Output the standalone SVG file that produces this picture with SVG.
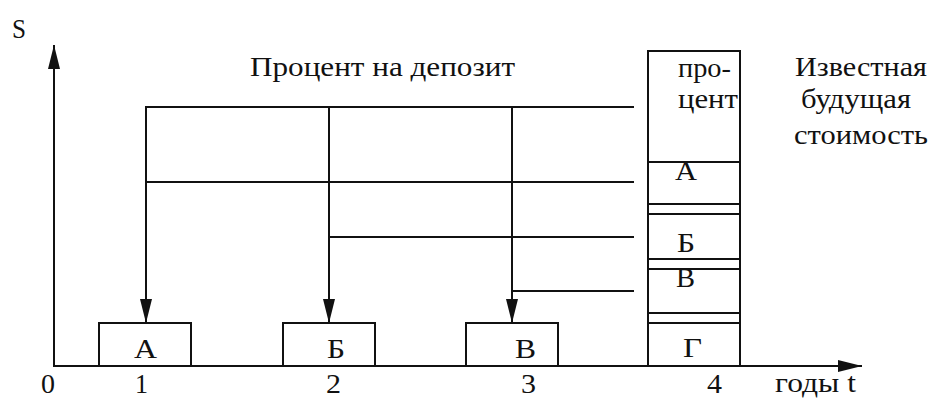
<svg xmlns="http://www.w3.org/2000/svg" width="938" height="418" viewBox="0 0 938 418" font-family="Liberation Serif, Times New Roman, DejaVu Serif, serif" font-size="27">
<style>
.ln{stroke:#111;stroke-width:2;fill:none}
.bx{stroke:#111;stroke-width:2;fill:none}
</style>
<defs>
<marker id="ah" viewBox="0 0 24 12" refX="24" refY="6" markerWidth="24" markerHeight="12" markerUnits="userSpaceOnUse" orient="auto">
<path d="M0,0 L24,6 L0,12 Z" fill="#111"/>
</marker>
</defs>
<rect width="938" height="418" fill="#ffffff"/>
<g id="connectors">
<line class="ln" x1="54" y1="366" x2="54" y2="45" marker-end="url(#ah)"/>
<line class="ln" x1="53" y1="366" x2="862" y2="366" marker-end="url(#ah)"/>
<polyline class="ln" points="634,107 146,107 146,323" marker-end="url(#ah)"/>
<line class="ln" x1="329" y1="107" x2="329" y2="323" marker-end="url(#ah)"/>
<line class="ln" x1="512" y1="107" x2="512" y2="323" marker-end="url(#ah)"/>
<line class="ln" x1="146" y1="182" x2="634" y2="182"/>
<line class="ln" x1="329" y1="237" x2="634" y2="237"/>
<line class="ln" x1="512" y1="291" x2="634" y2="291"/>
</g>
<g id="labels" fill="#111">
<text x="12" y="38" textLength="14" lengthAdjust="spacingAndGlyphs">S</text>
<text x="41" y="393" textLength="14" lengthAdjust="spacingAndGlyphs">0</text>
<text x="135" y="393" textLength="13" lengthAdjust="spacingAndGlyphs">1</text>
<text x="326" y="393" textLength="15" lengthAdjust="spacingAndGlyphs">2</text>
<text x="521" y="393" textLength="15" lengthAdjust="spacingAndGlyphs">3</text>
<text x="707" y="393" textLength="15" lengthAdjust="spacingAndGlyphs">4</text>
<text x="775" y="392" textLength="81" lengthAdjust="spacingAndGlyphs">годы t</text>
<text x="250" y="76" textLength="265" lengthAdjust="spacingAndGlyphs">Процент на депозит</text>
</g>
<g id="box-A" fill="#111">
<rect class="bx" x="99" y="323" width="92" height="43"/>
<text x="134" y="358" textLength="23" lengthAdjust="spacingAndGlyphs">А</text>
</g>
<g id="box-B" fill="#111">
<rect class="bx" x="283" y="323" width="92" height="43"/>
<text x="327" y="358" textLength="18" lengthAdjust="spacingAndGlyphs">Б</text>
</g>
<g id="box-V" fill="#111">
<rect class="bx" x="466" y="323" width="92" height="43"/>
<text x="515" y="358" textLength="21" lengthAdjust="spacingAndGlyphs">В</text>
</g>
<g id="future-value-stack" fill="#111">
<rect class="bx" x="648" y="51" width="92" height="315"/>
<line class="ln" x1="648" y1="162" x2="740" y2="162"/>
<line class="ln" x1="648" y1="204" x2="740" y2="204"/>
<line class="ln" x1="648" y1="214" x2="740" y2="214"/>
<line class="ln" x1="648" y1="259" x2="740" y2="259"/>
<line class="ln" x1="648" y1="269" x2="740" y2="269"/>
<line class="ln" x1="648" y1="313" x2="740" y2="313"/>
<line class="ln" x1="648" y1="323" x2="740" y2="323"/>
<text x="678" y="77" textLength="53" lengthAdjust="spacingAndGlyphs">про-</text>
<text x="678" y="108" textLength="60" lengthAdjust="spacingAndGlyphs">цент</text>
<text x="675" y="180" textLength="22" lengthAdjust="spacingAndGlyphs">А</text>
<text x="677" y="252" textLength="18" lengthAdjust="spacingAndGlyphs">Б</text>
<text x="676" y="287" textLength="19" lengthAdjust="spacingAndGlyphs">В</text>
<text x="683" y="357" textLength="19" lengthAdjust="spacingAndGlyphs">Г</text>
</g>
<g id="future-value-label" fill="#111">
<text x="795" y="76" textLength="132" lengthAdjust="spacingAndGlyphs">Известная</text>
<text x="801" y="108" textLength="110" lengthAdjust="spacingAndGlyphs">будущая</text>
<text x="794" y="144" textLength="134" lengthAdjust="spacingAndGlyphs">стоимость</text>
</g>
</svg>
